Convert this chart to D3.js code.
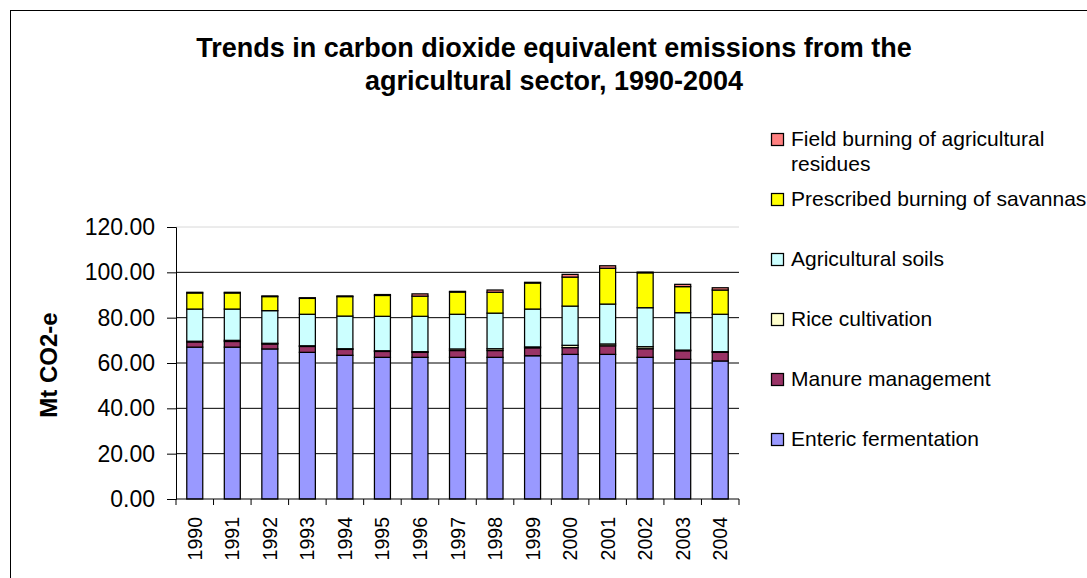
<!DOCTYPE html>
<html>
<head>
<meta charset="utf-8">
<script src="https://cdn.jsdelivr.net/npm/d3@7"></script>
<style>
  html, body { margin: 0; padding: 0; background: #fff; overflow: hidden; }
  svg { display: block; font-family: Arial, "Liberation Sans", sans-serif; }
</style>
</head>
<body>
<svg id="chart" width="1087" height="578"></svg>
<script>
// Emissions by source, Mt CO2-e
const years = ["1990","1991","1992","1993","1994","1995","1996","1997","1998","1999","2000","2001","2002","2003","2004"];
const enteric  = [67.0, 67.0, 66.2, 64.7, 63.4, 62.5, 62.5, 62.5, 62.5, 63.2, 63.8, 63.8, 62.5, 61.6, 60.9];
const manure   = [2.3, 2.5, 2.2, 2.6, 2.6, 2.6, 2.2, 3.0, 3.0, 3.5, 3.0, 3.8, 3.8, 3.8, 3.8];
const rice     = [0.3, 0.5, 0.3, 0.3, 0.3, 0.3, 0.3, 0.7, 0.8, 0.4, 1.0, 0.8, 0.9, 0.3, 0.3];
const soils    = [14.2, 13.8, 14.4, 13.9, 14.4, 15.2, 15.6, 15.3, 15.7, 16.7, 17.3, 17.6, 17.2, 16.5, 16.5];
const savannas = [7.1, 7.1, 6.2, 7.0, 8.6, 9.2, 8.9, 9.8, 9.2, 11.5, 12.8, 15.8, 15.4, 11.5, 10.7];
const fieldBurning = [0.3, 0.3, 0.3, 0.3, 0.3, 0.4, 1.0, 0.3, 1.0, 0.3, 1.2, 1.1, 0.3, 1.0, 1.0];

const seriesNames = ["Enteric fermentation", "Manure management", "Rice cultivation",
                     "Agricultural soils", "Prescribed burning of savannas",
                     "Field burning of agricultural residues"];
const seriesColors = ["#9999FF", "#993366", "#FFFFCC", "#CCFFFF", "#FFFF00", "#FF8080"];
const yTicks = [0, 20, 40, 60, 80, 100, 120];

const titleLines = ["Trends in carbon dioxide equivalent emissions from the",
                    "agricultural sector, 1990-2004"];
const yTitle = "Mt CO2-e";
// legend text, wrapped as drawn (top entry first)
const legendLines = [["Field burning of agricultural", "residues"],
                     ["Prescribed burning of savannas"],
                     ["Agricultural soils"],
                     ["Rice cultivation"],
                     ["Manure management"],
                     ["Enteric fermentation"]];

const svg = d3.select("#chart");

// outer chart frame
svg.append("rect")
  .attr("x", 10.5).attr("y", 10.5)
  .attr("width", 1200).attr("height", 700)
  .attr("fill", "#fff").attr("stroke", "#000").attr("stroke-width", 1);

const plot = { left: 176, right: 739, top: 227, bottom: 499 };

const x = d3.scaleBand()
  .domain(years)
  .range([plot.left, plot.right])
  .paddingInner(0.574)
  .paddingOuter(0.287);

const y = d3.scaleLinear().domain([0, 120]).range([plot.bottom, plot.top]);

// gridlines
svg.append("g").selectAll("line")
  .data(yTicks.filter(d => d > 0))
  .join("line")
  .attr("x1", plot.left).attr("x2", plot.right)
  .attr("y1", d => y(d)).attr("y2", d => y(d))
  .attr("stroke", d => d === 120 ? "#d8d8d8" : "#000")
  .attr("stroke-width", 1);

// stacked bars
const table = years.map((yr, i) => ({
  year: yr,
  s0: enteric[i], s1: manure[i], s2: rice[i],
  s3: soils[i], s4: savannas[i], s5: fieldBurning[i]
}));
const stack = d3.stack().keys(["s0","s1","s2","s3","s4","s5"]);
const layers = stack(table);

svg.append("g").selectAll("g")
  .data(layers)
  .join("g")
  .attr("fill", (d, i) => seriesColors[i])
  .selectAll("rect")
  .data(d => d)
  .join("rect")
  .attr("x", d => x(d.data.year))
  .attr("width", x.bandwidth())
  .attr("y", d => y(d[1]))
  .attr("height", d => y(d[0]) - y(d[1]))
  .attr("stroke", "#000")
  .attr("stroke-width", 1.25);

// y axis
const yAxis = svg.append("g")
  .attr("transform", `translate(${plot.left},0)`)
  .call(d3.axisLeft(y).tickValues(yTicks).tickFormat(d3.format(".2f")).tickSize(9).tickPadding(12));
yAxis.select(".domain").attr("stroke", "#000");
yAxis.selectAll(".tick line").attr("stroke", "#000");
yAxis.selectAll("text")
  .attr("font-size", 23)
  .attr("fill", "#000")
  .attr("font-family", "Arial, 'Liberation Sans', sans-serif");

// x axis with ticks on category boundaries
const xAxisG = svg.append("g").attr("transform", `translate(0,${plot.bottom})`);
xAxisG.append("line")
  .attr("x1", plot.left).attr("x2", plot.right)
  .attr("y1", 0).attr("y2", 0)
  .attr("stroke", "#000");
const step = x.step();
xAxisG.selectAll("line.tick")
  .data(d3.range(years.length + 1))
  .join("line")
  .attr("class", "tick")
  .attr("x1", i => plot.left + i * step).attr("x2", i => plot.left + i * step)
  .attr("y1", 0).attr("y2", 6)
  .attr("stroke", "#000");
xAxisG.selectAll("text")
  .data(years)
  .join("text")
  .attr("transform", d => `translate(${x(d) + x.bandwidth() / 2 + 7},18) rotate(-90)`)
  .attr("text-anchor", "end")
  .attr("font-size", 19.5)
  .attr("fill", "#000")
  .text(d => d);

// y axis title
svg.append("text")
  .attr("transform", "translate(57,365) rotate(-90)")
  .attr("text-anchor", "middle")
  .attr("font-size", 24)
  .attr("font-weight", "bold")
  .attr("fill", "#000")
  .text(yTitle);

// title
svg.append("g").selectAll("text")
  .data(titleLines)
  .join("text")
  .attr("x", 554)
  .attr("y", (d, i) => 57 + i * 33)
  .attr("text-anchor", "middle")
  .attr("font-size", 27)
  .attr("font-weight", "bold")
  .attr("fill", "#000")
  .text(d => d);

// legend, reverse of stacking order
const legendRows = [146, 206, 266, 326, 386, 446];
const legendColors = seriesColors.slice().reverse();
const lg = svg.append("g");
legendLines.forEach((lines, i) => {
  const base = legendRows[i];
  lg.append("rect")
    .attr("x", 771.5).attr("y", base - 12.5)
    .attr("width", 12).attr("height", 12)
    .attr("fill", legendColors[i])
    .attr("stroke", "#000").attr("stroke-width", 1.25);
  lines.forEach((t, j) => {
    lg.append("text")
      .attr("x", 791)
      .attr("y", base + j * 25)
      .attr("font-size", 21)
      .attr("fill", "#000")
      .text(t);
  });
});
</script>
</body>
</html>
